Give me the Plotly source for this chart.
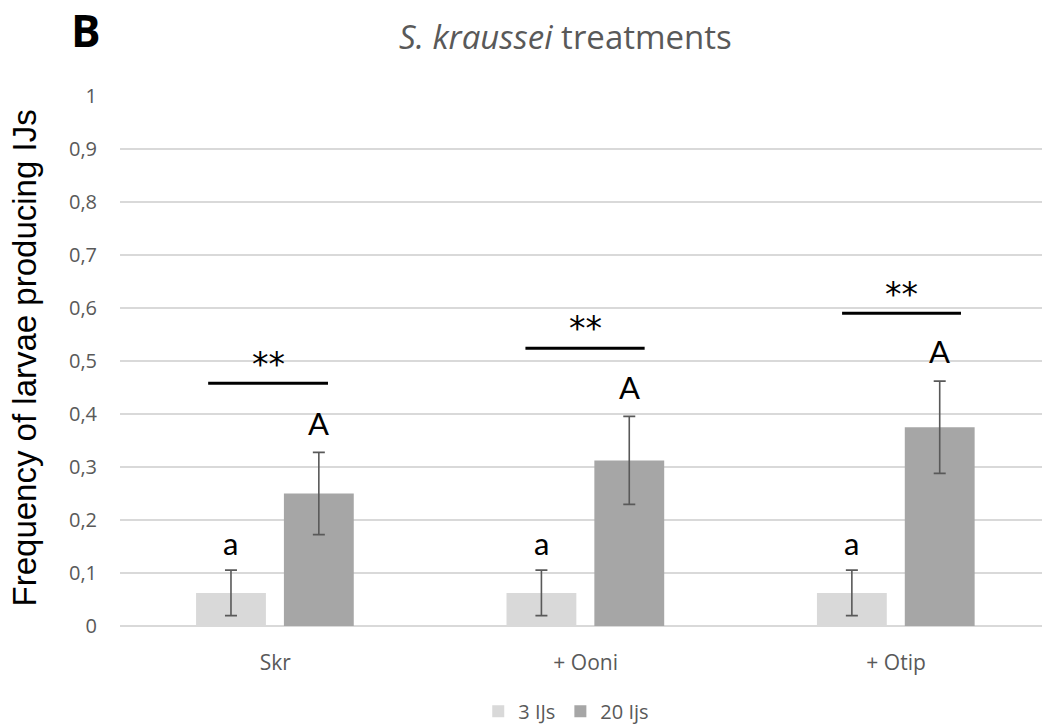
import plotly.graph_objects as go

# Data
categories = ["Skr", "+ Ooni", "+ Otip"]
series_names = ["3 IJs", "20 Ijs"]
low_dose = [0.0625, 0.0625, 0.0625]
low_err = [0.043, 0.043, 0.043]
high_dose = [0.25, 0.3125, 0.375]
high_err = [0.0775, 0.083, 0.087]
low_letters = ["a", "a", "a"]
high_letters = ["A", "A", "A"]
sig_marks = ["**", "**", "**"]
sig_line_y = [0.458, 0.524, 0.590]
sig_text_y = [0.494, 0.562, 0.625]
sig_line_x = [(-0.216, 0.170), (-0.194, 0.190), (-0.174, 0.209)]
y_ticks = [0, 0.1, 0.2, 0.3, 0.4, 0.5, 0.6, 0.7, 0.8, 0.9, 1]

pos = list(range(len(categories)))
bar_w = 0.225
off_low, off_high = -0.255, 0.028
calibri_like = "Lato, 'Open Sans', sans-serif"
grey_text = "#595959"

fig = go.Figure()
fig.add_trace(go.Bar(
    x=pos, y=low_dose, name=series_names[0], width=bar_w, offset=off_low,
    marker=dict(color="#d9d9d9", line=dict(width=0)),
    error_y=dict(type="data", array=low_err, color=grey_text, thickness=1.6, width=6),
))
fig.add_trace(go.Bar(
    x=pos, y=high_dose, name=series_names[1], width=bar_w, offset=off_high,
    marker=dict(color="#a6a6a6", line=dict(width=0)),
    error_y=dict(type="data", array=high_err, color=grey_text, thickness=1.6, width=6),
))

annotations = []
for i in pos:
    annotations.append(dict(x=i + off_low + bar_w / 2, y=low_dose[i] + low_err[i] + 0.052,
                            text=low_letters[i], showarrow=False,
                            font=dict(family=calibri_like, size=31, color="black")))
    annotations.append(dict(x=i + off_high + bar_w / 2, y=high_dose[i] + high_err[i] + 0.056,
                            text=high_letters[i], showarrow=False,
                            font=dict(family=calibri_like, size=31, color="black")))
    annotations.append(dict(x=i + (sig_line_x[i][0] + sig_line_x[i][1]) / 2, y=sig_text_y[i],
                            text=sig_marks[i], showarrow=False,
                            font=dict(family="'DejaVu Sans', sans-serif", size=33, color="black")))
    fig.add_shape(type="line", xref="x", yref="y",
                  x0=i + sig_line_x[i][0], x1=i + sig_line_x[i][1],
                  y0=sig_line_y[i], y1=sig_line_y[i],
                  line=dict(color="black", width=3))

annotations.append(dict(xref="paper", yref="paper", x=-0.037, y=1.125, xanchor="center",
                        yanchor="middle", text="<b>B</b>", showarrow=False,
                        font=dict(family="'Open Sans', sans-serif", size=44, color="black")))
annotations.append(dict(xref="paper", yref="paper", x=0.483, y=1.112, xanchor="center",
                        yanchor="middle", text="<i>S. kraussei</i> treatments", showarrow=False,
                        font=dict(family="'Open Sans', sans-serif", size=33, color=grey_text)))
annotations.append(dict(xref="paper", yref="paper", x=-0.104, y=0.505, xanchor="center",
                        yanchor="middle", textangle=-90,
                        text="Frequency of larvae producing IJs", showarrow=False,
                        font=dict(family="'Liberation Sans', Arial, sans-serif",
                                  size=33, color="black")))

fig.update_layout(
    width=1042, height=725,
    margin=dict(l=120, r=0, t=96, b=99),
    paper_bgcolor="white", plot_bgcolor="white",
    barmode="overlay",
    showlegend=True,
    legend=dict(orientation="h", x=0.484, xanchor="center",
                yref="container", y=0.019, yanchor="middle",
                font=dict(family="'Open Sans', sans-serif", size=20, color=grey_text),
                itemwidth=30, traceorder="normal"),
    annotations=annotations,
    xaxis=dict(range=[-0.5, 2.47], tickvals=pos, ticktext=categories, showgrid=False,
               zeroline=False, showline=False, ticks="", automargin=False,
               tickfont=dict(family="'Open Sans', sans-serif", size=21, color=grey_text),
               ticklabelstandoff=22),
    yaxis=dict(range=[0, 1], tickvals=y_ticks,
               ticktext=[("%g" % v).replace(".", ",") for v in y_ticks],
               showgrid=True, gridcolor="#d9d9d9", gridwidth=1.5,
               zeroline=True, zerolinecolor="#d9d9d9", zerolinewidth=1.5,
               showline=False, ticks="", automargin=False,
               tickfont=dict(family="'Open Sans', sans-serif", size=20, color=grey_text),
               ticklabelstandoff=22),
)

fig.write_html("out.html")
